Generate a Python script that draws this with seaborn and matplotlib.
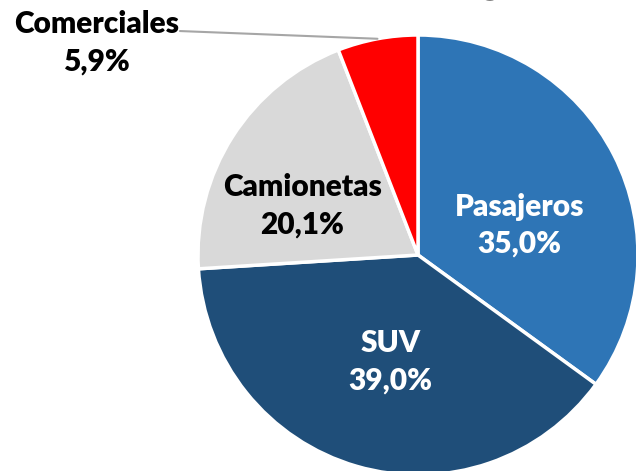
import numpy as np
import seaborn as sns
import matplotlib.pyplot as plt

# Data
categories = ['Pasajeros', 'SUV', 'Camionetas', 'Comerciales']
shares = [35.0, 39.0, 20.1, 5.9]
colors = ['#2E75B6', '#1F4E79', '#D9D9D9', '#FF0000']
text_colors = ['white', 'white', 'black', 'black']
title = 'Ventas por segmento'

sns.set_theme(style='white')
plt.rcParams['font.family'] = ['Lato', 'DejaVu Sans']

fig = plt.figure(figsize=(6.36, 4.71), dpi=100)
ax = fig.add_axes([0, 0, 1, 1])

wedges, _ = ax.pie(shares, colors=colors, startangle=90, counterclock=False,
                   radius=1.0, wedgeprops=dict(edgecolor='white', linewidth=2.5))

# pie center at pixel (418, 255), radius 220 px
ax.set_xlim(-418 / 220, (636 - 418) / 220)
ax.set_ylim((255 - 471) / 220, 255 / 220)
ax.axis('off')

# label positions (data units, radius = 1)
label_pos = [(0.46, 0.135), (-0.125, -0.485), (-0.525, 0.225), (-1.46, 0.965)]

for i, (cat, val) in enumerate(zip(categories, shares)):
    x, y = label_pos[i]
    txt = f'{cat}\n{val:.1f}%'.replace('.', ',')
    ax.text(x, y, txt, ha='center', va='center', fontsize=21.5, fontweight='heavy',
            color=text_colors[i], linespacing=1.4)

# leader line for Comerciales
w = wedges[3]
mid = np.deg2rad((w.theta1 + w.theta2) / 2)
ex, ey = np.cos(mid), np.sin(mid)
ax.plot([-1.082, ex], [1.018, ey], color='#A6A6A6', lw=1.5, clip_on=False)

# title sits above the visible area, only descenders show
fig.text(0.66, 1 + 7 / 471, title, ha='center', va='baseline', fontsize=32,
         fontweight='bold', color='black')

fig.savefig('out.png', dpi=100)
